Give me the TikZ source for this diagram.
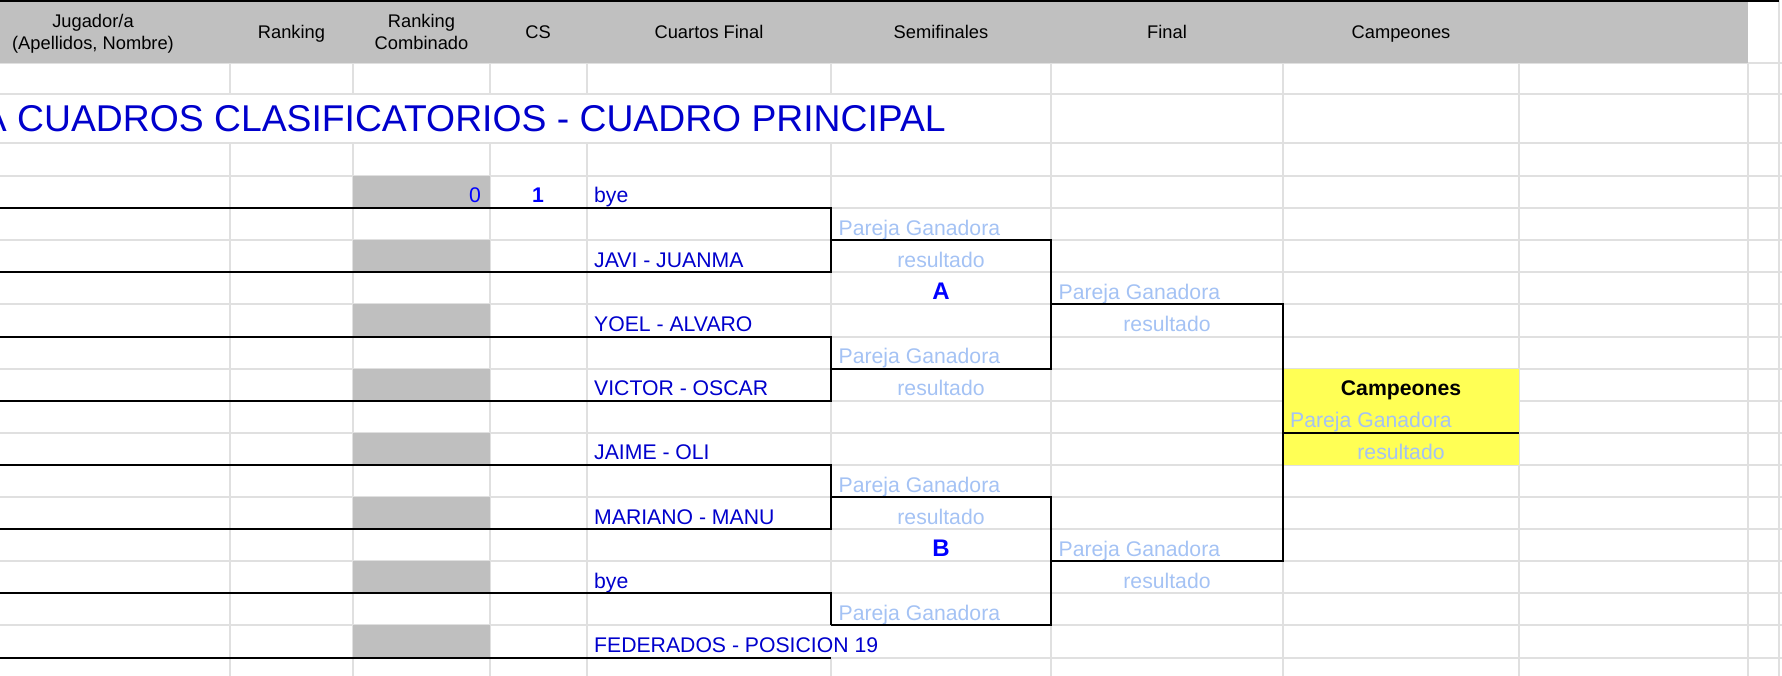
\documentclass[tikz,border=0pt]{standalone}
\usepackage{fontspec}
\setmainfont{Liberation Sans}
\usepackage{tikz}
\usetikzlibrary{positioning}
\definecolor{hdrgray}{RGB}{192,192,192}
\definecolor{cellgray}{RGB}{191,191,191}
\definecolor{gridgray}{RGB}{224,224,224}
\definecolor{teamblue}{RGB}{0,0,204}
\definecolor{grpblue}{RGB}{0,0,255}
\definecolor{winblue}{RGB}{164,194,244}
\definecolor{champyellow}{RGB}{255,255,85}
\newcommand{\hdrfont}{\fontsize{18.3}{21.5}\selectfont}
\newcommand{\bodyfont}{\fontsize{21.2}{25}\selectfont}
\newcommand{\grpfont}{\fontsize{24}{28}\selectfont\bfseries}
\newcommand{\titlefont}{\fontsize{37.3}{42}\selectfont}

\begin{document}
\begin{tikzpicture}[x=1pt, y=-1pt]
          % styles
          \tikzstyle{hdr} = [font=\hdrfont, align=center, inner sep=0pt, anchor=base]
          \tikzstyle{team} = [font=\bodyfont, text=teamblue, inner sep=0pt, anchor=base west]
          \tikzstyle{winner} = [font=\bodyfont, text=winblue, inner sep=0pt, anchor=base west]
          \tikzstyle{score} = [font=\bodyfont, text=winblue, inner sep=0pt, anchor=base]
          \tikzstyle{grp} = [font=\grpfont, text=grpblue, inner sep=0pt, anchor=base]
          \tikzstyle{gridline} = [draw=gridgray, line width=2pt]
          \tikzstyle{border} = [draw=black, line width=2pt]

          \useasboundingbox (0,0) rectangle (1782,676);
          \clip (0,0) rectangle (1782,676);

          % grid
          \foreach \y in {63,94.3,143.3,176,208.1,240.2,272.3,304.4,336.5,368.6,400.7,432.8,464.9,497,529.1,561.2,593.3,625.4,657.5}
            \draw[gridline] (0,\y) -- (1782,\y);
          \foreach \x in {229.6,353.4,489.5,587} {
            \draw[gridline] (\x,63) -- (\x,94.3);
            \draw[gridline] (\x,143.3) -- (\x,676);
          }
          \draw[gridline] (831,63) -- (831,94.3) (831,143.3) -- (831,625.4) (831,657.5) -- (831,676);
          \foreach \x in {1051,1283,1519,1747.5}
            \draw[gridline] (\x,63) -- (\x,676);
          \draw[gridline] (1779,0) -- (1779,676);

          % header
          \fill[black] (0,0) rectangle (1779,2.5);
          \fill[hdrgray] (0,2.5) rectangle (1747.5,63);
          \node[hdr] (hjug)  at (93,49.5)    {Jugador/a\\(Apellidos, Nombre)};
          \node[hdr] (hrank) at (291.5,38.3) {Ranking};
          \node[hdr] (hcomb) at (421.5,49.5) {Ranking\\Combinado};
          \node[hdr] (hcs)   at (538,38.3)   {CS};
          \node[hdr] (hqf)   at (709,38.3)   {Cuartos Final};
          \node[hdr] (hsf)   at (941,38.3)   {Semifinales};
          \node[hdr] (hfin)  at (1167,38.3)  {Final};
          \node[hdr] (hcamp) at (1401,38.3)  {Campeones};

          \node[font=\titlefont, text=teamblue, inner sep=0pt, anchor=base west] (title) at (-18.2,132) {A CUADROS CLASIFICATORIOS - CUADRO PRINCIPAL};

          % shaded cells
          \foreach \k in {0,...,7}
            \fill[cellgray] (353.4,176+64.2*\k) rectangle (489.5,208.1+64.2*\k);
          \fill[champyellow] (1283,368.6) rectangle (1519,464.9);

          % quarter finals
          \node[font=\bodyfont, text=grpblue, inner sep=0pt, anchor=base east] (comb0) at (481,203) {0};
          \node[font=\bodyfont\bfseries, text=grpblue, inner sep=0pt, anchor=base] (cs1) at (538,203) {1};
          \node[team] (t1) at (594,203)   {bye};
          \node[team] (t2) at (594,267.3) {JAVI - JUANMA};
          \node[team] (t3) at (594,331.5) {YOEL - ALVARO};
          \node[team] (t4) at (594,395.7) {VICTOR - OSCAR};
          \node[team] (t5) at (594,459.9) {JAIME - OLI};
          \node[team] (t6) at (594,524.1) {MARIANO - MANU};
          \node[team] (t7) at (594,588.3) {bye};
          \node[team] (t8) at (594,652.5) {FEDERADOS - POSICION 19};

          % semi finals
          \node[winner] (sfA1) at (838.5,235.1) {Pareja Ganadora};
          \node[score] (sfrA1) at (941,267.3)   {resultado};
          \node[grp] (grpA) at (941,299.4)      {A};
          \node[winner] (sfA2) at (838.5,363.6) {Pareja Ganadora};
          \node[score] (sfrA2) at (941,395.7)   {resultado};
          \node[winner] (sfB1) at (838.5,492)   {Pareja Ganadora};
          \node[score] (sfrB1) at (941,524.1)   {resultado};
          \node[grp] (grpB) at (941,556.2)      {B};
          \node[winner] (sfB2) at (838.5,620.4) {Pareja Ganadora};

          % final
          \node[winner] (fA) at (1058.5,299.4) {Pareja Ganadora};
          \node[score] (frA) at (1167,331.5)   {resultado};
          \node[winner] (fB) at (1058.5,556.2) {Pareja Ganadora};
          \node[score] (frB) at (1167,588.3)   {resultado};

          % champions
          \node[font=\bodyfont\bfseries, inner sep=0pt, anchor=base] (camp) at (1401,395.7) {Campeones};
          \node[winner] (cw) at (1290,427.8) {Pareja Ganadora};
          \node[score] (cr) at (1401,459.9)  {resultado};

          % bracket borders
          \foreach \t/\b in {208.1/272.3, 336.5/400.7, 464.9/529.1}
            \draw[border] (0,\t) -- (831,\t) -- (831,\b) -- (0,\b);
          \draw[border] (0,593.3) -- (831,593.3) -- (831,625.4);
          \draw[border] (0,657.5) -- (831,657.5);
          \foreach \t/\b in {240.2/368.6, 497/625.4}
            \draw[border] (831,\t) -- (1051,\t) -- (1051,\b) -- (831,\b);
          \draw[border] (1051,304.4) -- (1283,304.4) -- (1283,561.2) -- (1051,561.2);
          \draw[border] (1283,432.8) -- (1519,432.8);
\end{tikzpicture}
\end{document}
